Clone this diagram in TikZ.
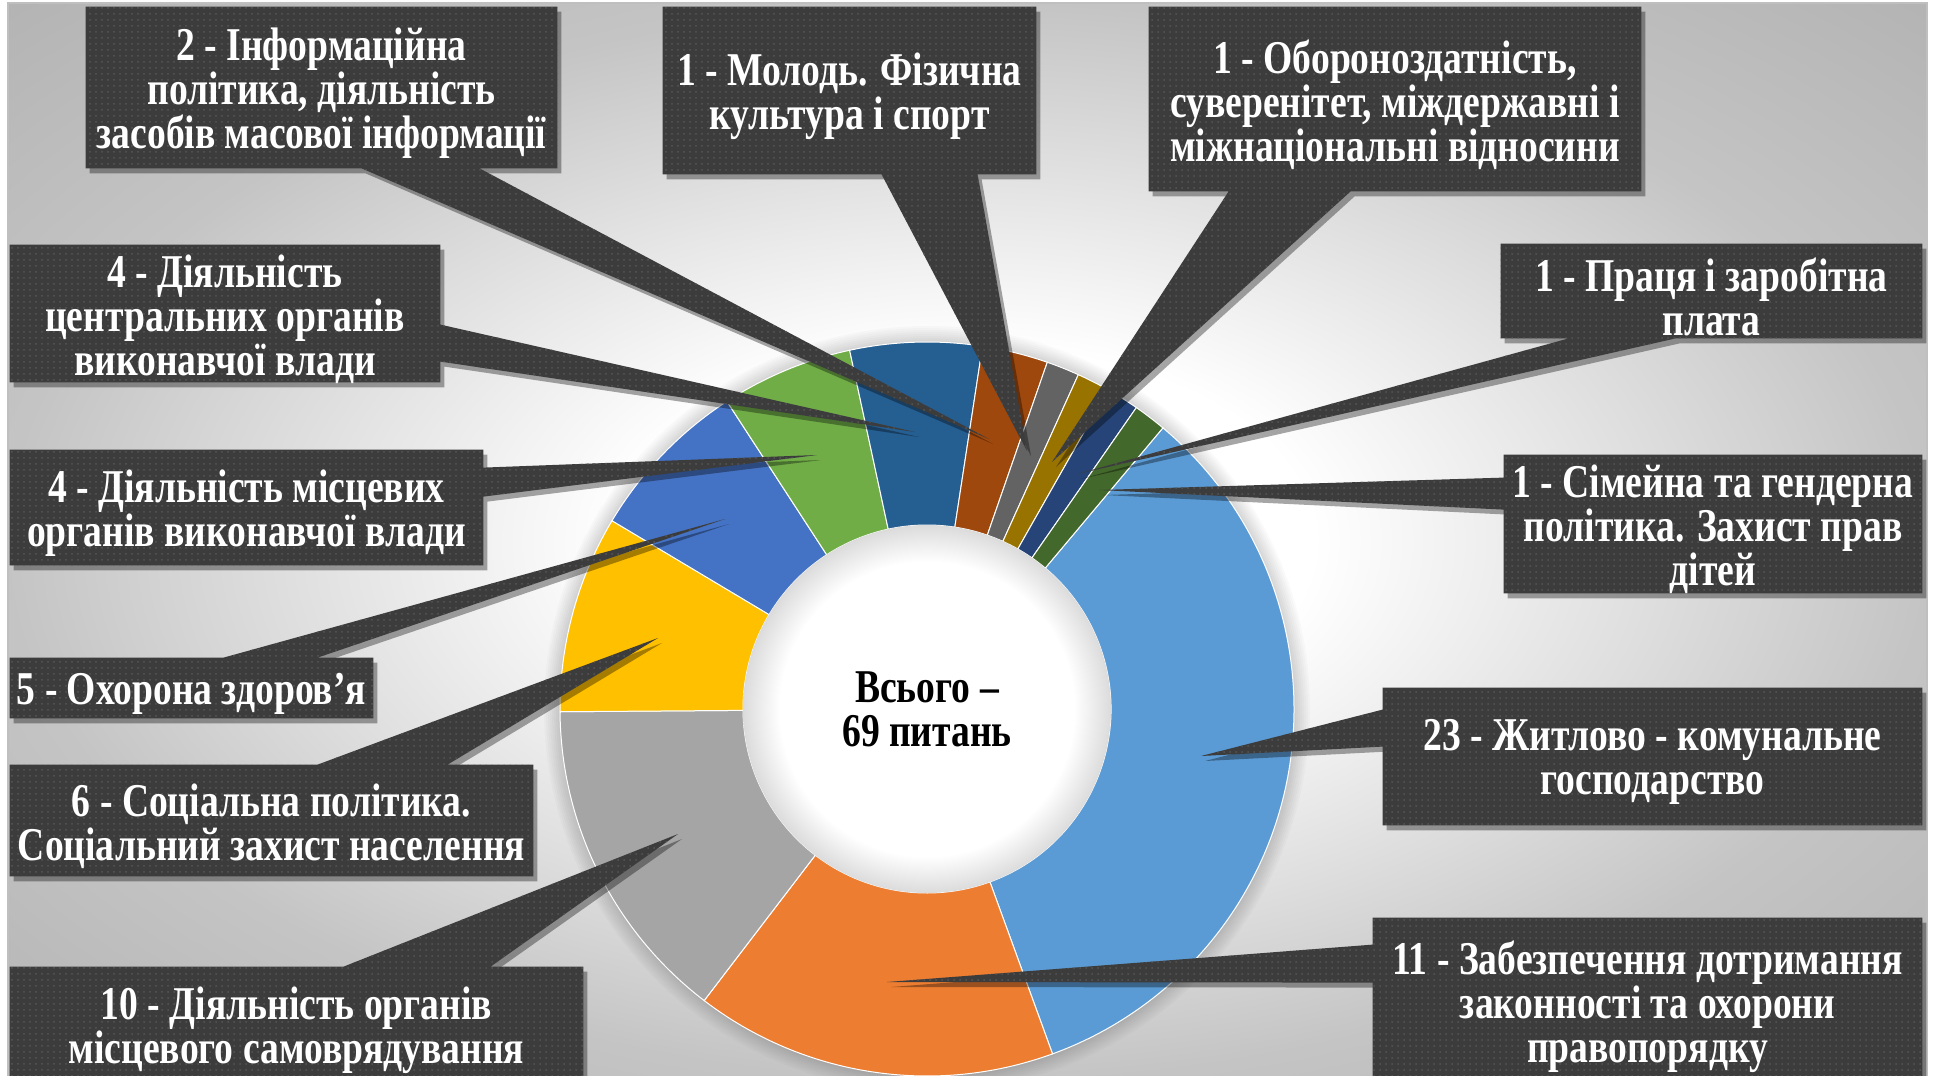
\documentclass[tikz,border=0pt]{standalone}
\usepackage{fontspec}
\newfontfamily\cfont{Liberation Serif}[FakeStretch=0.80]
\usetikzlibrary{calc,shadows,patterns}
\definecolor{cfill}{HTML}{3C3C3C}
\definecolor{cdot}{HTML}{565656}
\definecolor{s1}{HTML}{5B9BD5}
\definecolor{s2}{HTML}{ED7D31}
\definecolor{s3}{HTML}{A5A5A5}
\definecolor{s4}{HTML}{FFC000}
\definecolor{s5}{HTML}{4472C4}
\definecolor{s6}{HTML}{70AD47}
\definecolor{s7}{HTML}{255E91}
\definecolor{s8}{HTML}{9E480E}
\definecolor{s9}{HTML}{636363}
\definecolor{s10}{HTML}{997300}
\definecolor{s11}{HTML}{264478}
\definecolor{s12}{HTML}{43682B}
\pgfdeclarelayer{back}
\pgfdeclarelayer{mid}
\pgfsetlayers{back,mid,main}
\pgfdeclareradialshading{bgshade}{\pgfpoint{0bp}{0bp}}{color(0bp)=(white); color(9bp)=(white); color(25bp)=(black!23); color(36bp)=(black!30); color(50bp)=(black!30)}
\pgfdeclareradialshading{holeshade}{\pgfpoint{0bp}{0bp}}{color(0bp)=(white); color(20bp)=(white); color(25bp)=(black!14); color(50bp)=(black!14)}
\begin{document}
\begin{tikzpicture}[x=0.5pt, y=-0.5pt,
  lbl/.style={font=\cfont\bfseries\fontsize{23.5}{22}\selectfont, text=white, align=center, inner sep=0pt},
  txt/.style={lbl, yshift=-2.8pt},
  bx/.style 2 args={inner sep=0pt, minimum width=#1*0.5pt, minimum height=#2*0.5pt},
  callout/.style={fill=cfill, draw=none,
    drop shadow={opacity=0.35, shadow xshift=2pt, shadow yshift=-2.5pt, fill=black},
    postaction={pattern=dots, pattern color=cdot}},
  slice/.style={draw=white, line width=0.5pt}]
\useasboundingbox (0,0) rectangle (1933,1076);

% callout boxes (outline nodes)
\node[bx={471}{161}] (c1) at (321.5,87.5) {};
\node[bx={373}{167}] (c2) at (849.5,90.5) {};
\node[bx={492}{184}] (c3) at (1395,99) {};
\node[bx={421}{94}] (c4) at (1711.5,291) {};
\node[bx={418}{138}] (c5) at (1713,524) {};
\node[bx={539}{137}] (c6) at (1652.5,756.5) {};
\node[bx={549}{166}] (c7) at (1647.5,1001) {};
\node[bx={573}{116}] (c8) at (296.5,1025) {};
\node[bx={523}{111}] (c9) at (271.5,820.5) {};
\node[bx={363}{60}] (c10) at (191.5,688) {};
\node[bx={473}{115}] (c11) at (246.5,507.5) {};
\node[bx={430}{137}] (c12) at (225,313.5) {};

% texts
\node[txt] (l1) at (c1) {2 - Інформаційна\\політика, діяльність\\засобів масової інформації};
\node[txt] (l2) at (c2) {1 - Молодь. Фізична\\культура і спорт};
\node[txt] (l3) at (c3) {1 - Обороноздатність,\\суверенітет, міждержавні і\\міжнаціональні відносини};
\node[txt] (l4) at (c4) {1 - Праця і заробітна\\плата};
\node[txt] (l5) at (c5) {1 - Сімейна та гендерна\\політика. Захист прав\\дітей};
\node[txt] (l6) at (c6) {23 - Житлово - комунальне\\господарство};
\node[txt] (l7) at (c7) {11 - Забезпечення дотримання\\законності та охорони\\правопорядку};
\node[txt] (l8) at (c8) {10 - Діяльність органів\\місцевого самоврядування};
\node[txt] (l9) at (c9) {6 - Соціальна політика.\\Соціальний захист населення};
\node[txt] (l10) at (c10) {5 - Охорона здоров’я};
\node[txt] (l11) at (c11) {4 - Діяльність місцевих\\органів виконавчої влади};
\node[txt] (l12) at (c12) {4 - Діяльність\\центральних органів\\виконавчої влади};

\node[lbl, text=black] (tot) at (927,709) {Всього –\\69 питань};

% pointer tips
\coordinate (t1) at (989,439);
\coordinate (t2) at (1027,451);
\coordinate (t3) at (1052,462);
\coordinate (t4) at (1077,474);
\coordinate (t5) at (1099,490);
\coordinate (t6) at (1201,756);
\coordinate (t7) at (887,982);
\coordinate (t8) at (678,834);
\coordinate (t9) at (658,638);
\coordinate (t10) at (725,519);
\coordinate (t11) at (817,455);
\coordinate (t12) at (915,432);

\begin{pgfonlayer}{back}
  \fill[white] (0,0) rectangle (1933,1076);
  \shade[shading=bgshade] (8,3) rectangle (1927,1080);
  \draw[black!25, line width=1pt] (8,1080) -- (8,3) -- (1927,3) -- (1927,1080);
  \begin{scope}[shift={(927,709)}, yscale=-1]
    \foreach \i in {1,...,8} \fill[black, opacity=0.02] (0,0) circle ({367+2*\i});
    \foreach \a/\b/\c in {50/-70/s1, -70/-127.39/s2, -127.39/-179.57/s3, -179.57/-210.87/s4,
        -210.87/-236.96/s5, -236.96/-257.83/s6, -257.83/-278.70/s7, -278.70/-289.13/s8,
        -289.13/-294.35/s9, -294.35/-299.57/s10, -299.57/-304.78/s11, -304.78/-310/s12}
      \fill[\c, slice] (\a:367) arc[start angle=\a, end angle=\b, radius=367]
        -- (\b:184) arc[start angle=\b, end angle=\a, radius=184] -- cycle;
    \shade[shading=holeshade] (0,0) circle (184);
  \end{scope}
\end{pgfonlayer}

\begin{pgfonlayer}{mid}
  % bottom pointers
  \fill[callout] (c1.north west) -- (c1.north east) -- (c1.south east) -- ($(c1.south west)+(394,0)$) -- (t1) -- ($(c1.south west)+(276,0)$) -- (c1.south west) -- cycle;
  \fill[callout] (c2.north west) -- (c2.north east) -- (c2.south east) -- ($(c2.south west)+(315,0)$) -- (t2) -- ($(c2.south west)+(219,0)$) -- (c2.south west) -- cycle;
  \fill[callout] (c3.north west) -- (c3.north east) -- (c3.south east) -- ($(c3.south west)+(202,0)$) -- (t3) -- ($(c3.south west)+(80,0)$) -- (c3.south west) -- cycle;
  \fill[callout] (c4.north west) -- (c4.north east) -- (c4.south east) -- ($(c4.south west)+(175,0)$) -- (t4) -- ($(c4.south west)+(68,0)$) -- (c4.south west) -- cycle;
  % left pointers
  \fill[callout] (c5.north west) -- (c5.north east) -- (c5.south east) -- (c5.south west) -- ($(c5.north west)+(0,55)$) -- (t5) -- ($(c5.north west)+(0,23)$) -- cycle;
  \fill[callout] (c6.north west) -- (c6.north east) -- (c6.south east) -- (c6.south west) -- ($(c6.north west)+(0,59)$) -- (t6) -- ($(c6.north west)+(0,22)$) -- cycle;
  \fill[callout] (c7.north west) -- (c7.north east) -- (c7.south east) -- (c7.south west) -- ($(c7.north west)+(0,65)$) -- (t7) -- ($(c7.north west)+(0,27)$) -- cycle;
  % top pointers
  \fill[callout] (c8.north west) -- ($(c8.north west)+(334,0)$) -- (t8) -- ($(c8.north west)+(481,0)$) -- (c8.north east) -- (c8.south east) -- (c8.south west) -- cycle;
  \fill[callout] (c9.north west) -- ($(c9.north west)+(308,0)$) -- (t9) -- ($(c9.north west)+(438,0)$) -- (c9.north east) -- (c9.south east) -- (c9.south west) -- cycle;
  \fill[callout] (c10.north west) -- ($(c10.north west)+(214,0)$) -- (t10) -- ($(c10.north west)+(308,0)$) -- (c10.north east) -- (c10.south east) -- (c10.south west) -- cycle;
  % right pointers
  \fill[callout] (c11.north west) -- (c11.north east) -- ($(c11.north east)+(0,18)$) -- (t11) -- ($(c11.north east)+(0,47)$) -- (c11.south east) -- (c11.south west) -- cycle;
  \fill[callout] (c12.north west) -- (c12.north east) -- ($(c12.north east)+(0,80)$) -- (t12) -- ($(c12.north east)+(0,117)$) -- (c12.south east) -- (c12.south west) -- cycle;
\end{pgfonlayer}
\end{tikzpicture}
\end{document}
